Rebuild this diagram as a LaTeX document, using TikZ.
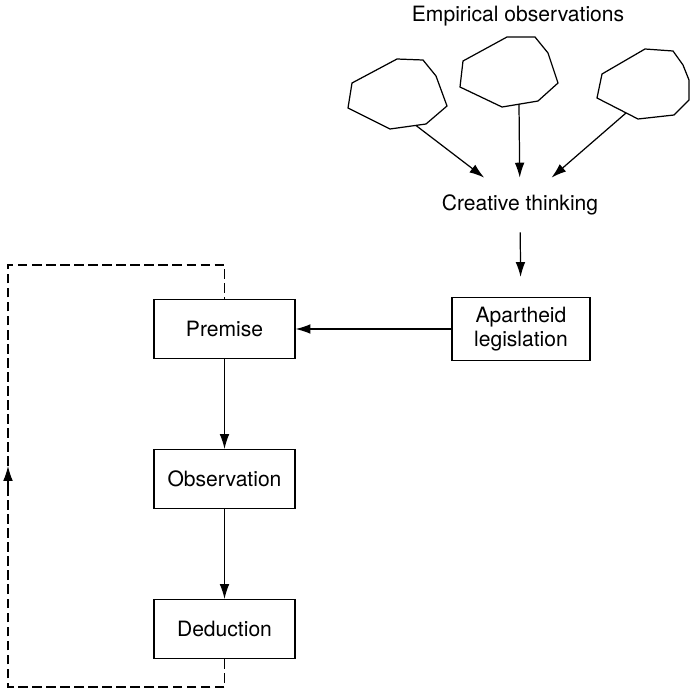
\documentclass[tikz,border=0pt]{standalone}
\usepackage{fontspec}
\setmainfont{TeX Gyre Heros}
\usetikzlibrary{arrows.meta}

\begin{document}
\begin{tikzpicture}[x=0.02cm,y=-0.02cm,font=\fontsize{12}{14}\selectfont]
  \tikzstyle{every node}=[inner sep=0pt]
  \tikzstyle{stepbox}=[draw,line width=0.6pt,minimum width=2.82cm,minimum height=1.18cm,align=center]
  \tikzstyle{flow}=[line width=0.7pt,-{Latex[length=8.5pt,width=5.5pt]}]
  \tikzstyle{loop}=[line width=0.6pt,dash pattern=on 5.5pt off 2.5pt]
  \tikzstyle{blob}=[line width=0.7pt]

  \useasboundingbox (0,0) rectangle (690,693);

  % observations
  \node (empirical) at (518,16) {Empirical observations};
  \draw[blob] (352,83) -- (397,59) -- (423,60) -- (436,76) -- (447,106) -- (426,124) -- (390,129) -- (348,108) -- cycle;
  \draw[blob] (463,61) -- (507,37) -- (535,37) -- (548,53) -- (558,83) -- (538,101) -- (502,107) -- (460,87) -- cycle;
  \draw[blob] (602,74) -- (645,49) -- (673,51) -- (683,65) -- (689,80) -- (689,100) -- (674,115) -- (638,119) -- (597,98) -- cycle;
  \coordinate (obs1) at (416,125.5);
  \coordinate (obs2) at (519,104);
  \coordinate (obs3) at (626,113);

  \node[minimum height=1.08cm] (creative) at (520,205) {Creative thinking};

  \node[stepbox,minimum width=2.76cm,minimum height=1.26cm] (apartheid) at (521,329) {Apartheid\\legislation};
  \node[stepbox] (premise) at (224.5,329) {Premise};
  \node[stepbox] (observation) at (224.5,479) {Observation};
  \node[stepbox] (deduction) at (224.5,629) {Deduction};

  \draw[flow] (obs1) -- (creative);
  \draw[flow] (obs2) -- (creative);
  \draw[flow] (obs3) -- (creative);
  \draw[flow,shorten >=0.4cm] (creative) -- (apartheid);
  \draw[flow] (apartheid) -- (premise);
  \draw[flow] (premise) -- (observation);
  \draw[flow] (observation) -- (deduction);

  % feedback loop
  \coordinate (lowleft) at (8,687);
  \coordinate (tail) at (8,496);
  \coordinate (mark) at (8,466);
  \coordinate (upleft) at (8,265);
  \draw[loop] (deduction.south) |- (lowleft) -- (tail);
  \draw[flow,line width=0.6pt] (tail) -- (mark);
  \draw[loop] (mark) -- (upleft) -| (premise.north);
\end{tikzpicture}
\end{document}
